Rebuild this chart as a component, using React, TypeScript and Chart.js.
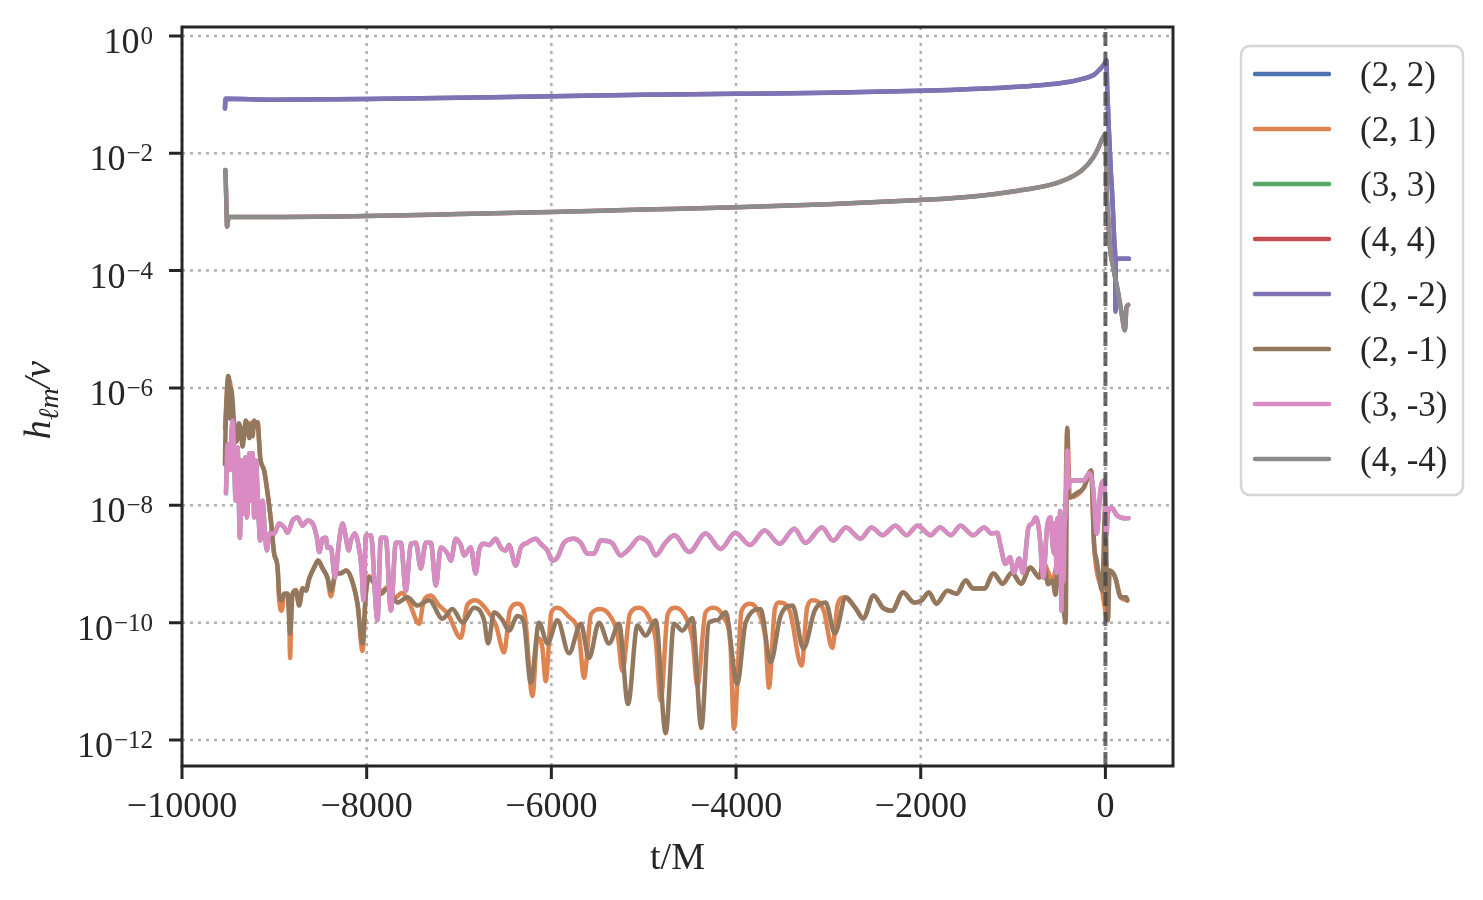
import { useEffect, useRef } from "react"
import { Chart, registerables, type Plugin } from "chart.js"

Chart.register(...registerables)

// mode labels and seaborn "deep" colours, in matplotlib plotting order
const modeLabels = ["(2, 2)", "(2, 1)", "(3, 3)", "(4, 4)", "(2, -2)", "(2, -1)", "(3, -3)", "(4, -4)"]
const modeColors = ["#4C72B0", "#DD8452", "#55A868", "#C44E52", "#8172B3", "#937860", "#DA8BC3", "#8C8C8C"]

const xTicks = [-10000, -8000, -6000, -4000, -2000, 0]
const yTicks = [1, 1e-2, 1e-4, 1e-6, 1e-8, 1e-10, 1e-12]
const xMin = -10000
const xMax = 732
const yMin = 3.6e-13
const yMax = 1.42
const mergerTime = 0

// |h_22| / nu  (same for (2, -2))
const amp22: [number, number][] = [
  [-9535, 0.058], [-9528, 0.085], [-9000, 0.082], [-8000, 0.084], [-7000, 0.088], [-6000, 0.094],
  [-5000, 0.099], [-4000, 0.103], [-3000, 0.108], [-2000, 0.116], [-1683, 0.12], [-938, 0.136],
  [-600, 0.15], [-384, 0.166], [-250, 0.185], [-127, 0.216], [-70, 0.26], [-34, 0.3], [0, 0.36],
  [10, 0.39], [20, 0.12], [35, 0.03], [58, 5e-3], [70, 2.5e-3], [85, 8e-4], [100, 2.5e-4],
  [106, 1.7e-4], [109, 2e-5], [113, 1.6e-4], [255, 1.6e-4],
]

// |h_44| / nu  (same for (4, -4))
const amp44: [number, number][] = [
  [-9530, 5.2e-3], [-9522, 2e-3], [-9512, 5.6e-4], [-9495, 8.2e-4], [-9000, 8.2e-4], [-8000, 8.5e-4],
  [-7000, 9.2e-4], [-6000, 1.0e-3], [-5000, 1.1e-3], [-4000, 1.2e-3], [-3000, 1.35e-3], [-2000, 1.6e-3],
  [-1500, 1.8e-3], [-944, 2.3e-3], [-600, 2.9e-3], [-390, 3.8e-3], [-250, 5.2e-3], [-132, 8.5e-3],
  [-80, 1.2e-2], [-39, 1.7e-2], [9, 2.2e-2], [13, 3.5e-3], [30, 8e-4], [49, 2.5e-4], [84, 1.15e-4],
  [139, 4.1e-5], [175, 1.9e-5], [211, 9.6e-6], [229, 2.4e-5], [247, 2.6e-5],
]

// |h_2-1| / nu
const amp2m1: [number, number][] = [
  [-9535, 5e-8], [-9528, 2.1e-7], [-9513, 8e-7], [-9500, 1.6e-6], [-9490, 1.4e-6], [-9480, 3e-7],
  [-9470, 1e-6], [-9452, 6e-7], [-9434, 2.1e-7], [-9420, 1.2e-7], [-9398, 1.4e-7], [-9385, 2.5e-7],
  [-9362, 1.8e-7], [-9345, 1e-7], [-9326, 1.6e-7], [-9310, 2.8e-7], [-9289, 2.2e-7], [-9270, 1.4e-7],
  [-9253, 2.4e-7], [-9235, 1.5e-7], [-9218, 2.8e-7], [-9200, 2.2e-7], [-9181, 2.6e-7], [-9165, 1.2e-7],
  [-9153, 6.5e-8], [-9110, 3.9e-8], [-9073, 1.6e-8], [-9037, 5.5e-9], [-9002, 1.5e-9], [-8965, 8.7e-10],
  [-8948, 3.1e-10], [-8921, 2.4e-10], [-8893, 3.1e-10], [-8857, 3.1e-10], [-8829, 6.5e-11], [-8802, 3.1e-10],
  [-8767, 3.5e-10], [-8731, 1.95e-10], [-8694, 3.8e-10], [-8658, 3.5e-10], [-8623, 5.6e-10], [-8569, 8.7e-10],
  [-8525, 1.14e-9], [-8478, 8.4e-10], [-8424, 5.9e-10], [-8388, 3.5e-10], [-8334, 6.9e-10], [-8280, 6.9e-10],
  [-8225, 7.7e-10], [-8171, 5.9e-10], [-8099, 2.1e-10], [-8045, 4.4e-11], [-8009, 3.1e-10], [-7973, 5.9e-10],
  [-7919, 4.6e-10], [-7847, 3.1e-10], [-7774, 3.8e-10], [-7666, 2.2e-10], [-7558, 2.7e-10], [-7450, 1.95e-10],
  [-7324, 2.4e-10], [-7179, 1.17e-10], [-7071, 1.7e-10], [-6962, 1.0e-10], [-6837, 1.8e-10], [-6729, 1.1e-10],
  [-6685, 4.4e-11], [-6620, 1.5e-10], [-6529, 1.1e-10], [-6458, 7.3e-11], [-6367, 1.3e-10], [-6296, 9.6e-11],
  [-6223, 9.5e-12], [-6133, 1.0e-10], [-6042, 4.4e-11], [-5934, 1.1e-10], [-5809, 3.0e-11], [-5682, 9.6e-11],
  [-5592, 2.5e-11], [-5484, 1.0e-10], [-5376, 4.4e-11], [-5267, 9.6e-11], [-5170, 4.1e-12], [-5068, 8.9e-11],
  [-4979, 6.0e-11], [-4870, 1.1e-10], [-4762, 1.3e-12], [-4672, 9.6e-11], [-4581, 7.3e-11], [-4473, 1.2e-10],
  [-4376, 1.6e-12], [-4294, 1.0e-10], [-4203, 1.1e-10], [-4113, 1.5e-10], [-3987, 9.1e-12], [-3896, 1.0e-10],
  [-3734, 1.7e-10], [-3626, 2.1e-11], [-3518, 1.3e-10], [-3389, 1.95e-10], [-3269, 3.6e-11], [-3149, 1.6e-10],
  [-3030, 2.2e-10], [-2930, 6.5e-11], [-2810, 2.7e-10], [-2710, 1.8e-10], [-2622, 1.17e-10], [-2511, 2.9e-10],
  [-2410, 1.8e-10], [-2311, 1.6e-10], [-2191, 3.25e-10], [-2071, 2.2e-10], [-1991, 2.4e-10], [-1911, 3.25e-10],
  [-1831, 2.1e-10], [-1711, 3.5e-10], [-1613, 3.1e-10], [-1512, 5.2e-10], [-1432, 3.8e-10], [-1312, 3.8e-10],
  [-1212, 6.9e-10], [-1113, 4.6e-10], [-1013, 7.1e-10], [-913, 4.6e-10], [-814, 8.7e-10], [-714, 5.9e-10],
  [-673, 1.06e-9], [-620, 4.5e-10], [-574, 5.2e-10], [-540, 3e-10], [-513, 1.14e-9], [-480, 4e-10],
  [-455, 1.8e-10], [-430, 1e-10], [-413, 2.1e-7], [-400, 1.5e-8], [-385, 1.36e-8], [-314, 1.6e-8],
  [-234, 2.0e-8], [-154, 3.9e-8], [-123, 2.2e-9], [-94, 1.14e-9], [-35, 3.5e-10], [-2, 1e-8],
  [26, 1.1e-10], [45, 7.7e-10], [106, 5.9e-10], [166, 2.7e-10], [225, 2.7e-10], [238, 2.4e-10],
]

// |h_21| / nu
const amp21: [number, number][] = [
  [-9535, 2e-7], [-9500, 1.5e-6], [-9470, 1e-6], [-9434, 2e-7], [-9362, 2e-7], [-9289, 2.4e-7],
  [-9218, 2.6e-7], [-9181, 2.6e-7], [-9153, 6.5e-8], [-9110, 3.9e-8], [-9073, 1.6e-8], [-9037, 5.5e-9],
  [-9002, 1.5e-9], [-8965, 8.7e-10], [-8948, 2.5e-10], [-8921, 1.6e-10], [-8893, 3.1e-10], [-8857, 3.1e-10],
  [-8840, 1.5e-10], [-8829, 2.5e-11], [-8815, 2e-10], [-8802, 3.1e-10], [-8767, 3.6e-10], [-8731, 2.0e-10],
  [-8694, 3.9e-10], [-8658, 3.6e-10], [-8623, 5.6e-10], [-8569, 8.7e-10], [-8525, 1.14e-9], [-8478, 8.4e-10],
  [-8424, 5.6e-10], [-8388, 2.8e-10], [-8334, 6.9e-10], [-8280, 7.0e-10], [-8225, 7.7e-10], [-8171, 5.9e-10],
  [-8099, 2.0e-10], [-8045, 3.3e-11], [-8009, 3.1e-10], [-7973, 6.2e-10], [-7919, 4.8e-10], [-7847, 3.4e-10],
  [-7774, 4.0e-10], [-7700, 2.6e-10], [-7620, 3.2e-10], [-7540, 2.2e-10], [-7432, 9.6e-11], [-7380, 2.4e-10],
  [-7305, 2.9e-10], [-7220, 2.0e-10], [-7120, 1.4e-10], [-6981, 5.5e-11], [-6910, 2.0e-10], [-6819, 2.4e-10],
  [-6720, 1.8e-10], [-6600, 9e-11], [-6512, 3.1e-11], [-6450, 1.6e-10], [-6367, 2.1e-10], [-6290, 1.4e-10],
  [-6205, 5.6e-12], [-6151, 5.5e-11], [-6100, 4e-11], [-6061, 1.0e-11], [-6000, 1.5e-10], [-5934, 1.8e-10],
  [-5820, 1.3e-10], [-5700, 6e-11], [-5646, 1.15e-11], [-5570, 1.4e-10], [-5466, 1.7e-10], [-5350, 1.2e-10],
  [-5280, 6e-11], [-5231, 1.5e-11], [-5150, 1.4e-10], [-5051, 1.8e-10], [-4940, 1.2e-10], [-4870, 5e-11],
  [-4816, 4.7e-12], [-4740, 1.4e-10], [-4654, 1.8e-10], [-4540, 1.2e-10], [-4470, 5e-11], [-4419, 8.4e-12],
  [-4330, 1.5e-10], [-4239, 1.8e-10], [-4130, 1.2e-10], [-4060, 4e-11], [-4023, 1.55e-12], [-3940, 1.6e-10],
  [-3842, 2.1e-10], [-3740, 1.3e-10], [-3680, 5e-11], [-3644, 7.8e-12], [-3580, 1.7e-10], [-3536, 2.2e-10],
  [-3420, 1.6e-10], [-3290, 1.85e-11], [-3230, 1.8e-10], [-3169, 2.4e-10], [-3050, 1.6e-10], [-2958, 3.7e-11],
  [-2900, 2.0e-10], [-2830, 2.7e-10], [-2710, 1.8e-10], [-2622, 1.2e-10], [-2511, 2.9e-10], [-2410, 1.8e-10],
  [-2311, 1.6e-10], [-2191, 3.25e-10], [-2071, 2.2e-10], [-1991, 2.4e-10], [-1911, 3.25e-10], [-1831, 2.1e-10],
  [-1711, 3.5e-10], [-1613, 3.1e-10], [-1512, 5.2e-10], [-1432, 3.8e-10], [-1312, 3.8e-10], [-1212, 6.9e-10],
  [-1113, 4.6e-10], [-1013, 7.1e-10], [-913, 4.6e-10], [-814, 8.7e-10], [-714, 5.9e-10], [-673, 1.06e-9],
  [-574, 5.2e-10], [-513, 1.1e-9], [-455, 1.8e-10], [-413, 2e-7], [-385, 1.36e-8], [-234, 2.0e-8],
  [-154, 3.9e-8], [-123, 2.2e-9], [-35, 3.5e-10], [26, 1.1e-10], [45, 7.7e-10], [106, 5.9e-10],
  [166, 2.7e-10], [238, 2.4e-10],
]

// |h_33| / nu  (same for (3, -3))
const amp33: [number, number][] = [
  [-9524, 1.6e-8], [-9506, 1.1e-7], [-9480, 4e-8], [-9465, 1.5e-7], [-9452, 2.8e-7], [-9434, 5.8e-8],
  [-9420, 1.2e-8], [-9398, 9.7e-8], [-9373, 2.8e-9], [-9354, 5.8e-8], [-9333, 7.2e-9], [-9315, 6.5e-8],
  [-9297, 6.2e-9], [-9272, 7.7e-8], [-9254, 1.2e-8], [-9235, 7.7e-8], [-9218, 6.2e-9], [-9200, 5.8e-8],
  [-9181, 1.6e-8], [-9153, 2.5e-9], [-9127, 1.2e-8], [-9102, 3.3e-9], [-9080, 1.7e-9], [-9056, 3.3e-9],
  [-9002, 3.3e-9], [-8948, 4.9e-9], [-8893, 4.2e-9], [-8857, 3.4e-9], [-8802, 5.5e-9], [-8748, 6.2e-9],
  [-8694, 4.5e-9], [-8640, 5.5e-9], [-8586, 4.9e-9], [-8539, 2.8e-9], [-8514, 1.6e-9], [-8478, 2.7e-9],
  [-8442, 2.8e-9], [-8423, 1.9e-9], [-8388, 1.9e-9], [-8344, 5.9e-10], [-8298, 2.5e-9], [-8261, 4.9e-9],
  [-8225, 2.8e-9], [-8196, 1.7e-9], [-8171, 2.5e-9], [-8128, 3.3e-9], [-8099, 2.5e-9], [-8056, 8.7e-10],
  [-8034, 2.4e-10], [-8009, 3.1e-9], [-7955, 3.1e-9], [-7883, 1.1e-10], [-7847, 2.8e-9], [-7793, 2.8e-9],
  [-7738, 1.6e-10], [-7684, 2.3e-9], [-7630, 2.3e-9], [-7576, 3.5e-10], [-7522, 2.2e-9], [-7468, 2.3e-9],
  [-7414, 8.4e-10], [-7360, 2.3e-9], [-7305, 2.3e-9], [-7251, 4.3e-10], [-7197, 1.9e-9], [-7125, 1.5e-9],
  [-7089, 1.14e-9], [-7035, 2.7e-9], [-6981, 2.1e-9], [-6945, 1.4e-9], [-6873, 1.9e-9], [-6819, 6.9e-10],
  [-6783, 1.7e-9], [-6729, 2.2e-9], [-6675, 2.1e-9], [-6602, 2.7e-9], [-6548, 1.9e-9], [-6494, 1.7e-9],
  [-6458, 2.1e-9], [-6386, 9.4e-10], [-6331, 1.9e-9], [-6259, 2.3e-9], [-6169, 2.7e-9], [-6115, 2.2e-9],
  [-6043, 1.7e-9], [-5989, 1.14e-9], [-5934, 1.3e-9], [-5863, 2.3e-9], [-5755, 2.7e-9], [-5682, 2.3e-9],
  [-5610, 1.5e-9], [-5538, 1.5e-9], [-5466, 2.5e-9], [-5347, 2.3e-9], [-5249, 1.4e-9], [-5146, 1.9e-9],
  [-5047, 2.8e-9], [-4946, 2.3e-9], [-4870, 1.4e-9], [-4766, 2.3e-9], [-4667, 3.1e-9], [-4507, 1.6e-9],
  [-4329, 3.3e-9], [-4167, 1.8e-9], [-4008, 3.4e-9], [-3849, 2.1e-9], [-3691, 3.7e-9], [-3528, 2.2e-9],
  [-3369, 4.0e-9], [-3249, 2.3e-9], [-3069, 4.2e-9], [-2949, 2.5e-9], [-2810, 4.2e-9], [-2652, 2.7e-9],
  [-2533, 4.2e-9], [-2414, 3.1e-9], [-2273, 4.5e-9], [-2154, 3.1e-9], [-2035, 4.5e-9], [-1894, 3.1e-9],
  [-1791, 4.2e-9], [-1672, 3.1e-9], [-1571, 4.5e-9], [-1432, 3.1e-9], [-1312, 4.2e-9], [-1234, 3.3e-9],
  [-1172, 3.4e-9], [-1132, 1.9e-9], [-1082, 1.0e-9], [-1033, 1.3e-9], [-992, 7.1e-10], [-933, 1.24e-9],
  [-893, 7.1e-10], [-833, 4.2e-9], [-793, 4.9e-9], [-753, 6.2e-9], [-714, 3.3e-9], [-673, 5.9e-10],
  [-633, 4.0e-9], [-595, 6.2e-9], [-570, 2.0e-9], [-553, 1.5e-9], [-540, 5e-9], [-530, 7e-10],
  [-520, 6e-9], [-513, 3.7e-9], [-500, 1.5e-9], [-490, 8e-9], [-476, 1.6e-10], [-465, 6e-9],
  [-455, 5e-10], [-444, 3.7e-9], [-430, 8e-9], [-413, 8.6e-8], [-400, 2e-8], [-385, 2.65e-8],
  [-314, 2.65e-8], [-234, 2.65e-8], [-173, 3.5e-8], [-134, 2.0e-8], [-94, 3.3e-9], [-54, 1.8e-8],
  [-14, 2.65e-8], [10, 3e-9], [26, 7.2e-9], [65, 9.2e-9], [126, 6.7e-9], [225, 6.0e-9], [249, 6.0e-9],
]

const modeData = [amp22, amp21, amp33, amp44, amp22, amp2m1, amp33, amp44]

const serif = "'Liberation Serif', 'Times New Roman', serif"
const ink = "#262626"

const minusLabel = (v: number) => (v < 0 ? "\u2212" + Math.abs(v) : String(v))

// dotted grid, box frame, outward tick marks and 10^n labels
const axesPlugin: Plugin = {
  id: "axesFrame",
  beforeDatasetsDraw(chart) {
    const { ctx, chartArea: a, scales } = chart
    ctx.save()
    ctx.strokeStyle = "#b0b0b0"
    ctx.lineWidth = 2.5
    ctx.setLineDash([3, 5])
    ctx.beginPath()
    scales.x.ticks.forEach((t) => {
      const px = scales.x.getPixelForValue(t.value)
      ctx.moveTo(px, a.top)
      ctx.lineTo(px, a.bottom)
    })
    scales.y.ticks.forEach((t) => {
      const py = scales.y.getPixelForValue(t.value)
      ctx.moveTo(a.left, py)
      ctx.lineTo(a.right, py)
    })
    ctx.stroke()
    ctx.restore()
  },
  afterDatasetsDraw(chart) {
    const { ctx, chartArea: a, scales } = chart
    ctx.save()
    ctx.strokeStyle = ink
    ctx.lineWidth = 3
    ctx.strokeRect(a.left, a.top, a.right - a.left, a.bottom - a.top)
    ctx.beginPath()
    scales.x.ticks.forEach((t) => {
      const px = scales.x.getPixelForValue(t.value)
      ctx.moveTo(px, a.bottom)
      ctx.lineTo(px, a.bottom + 13)
    })
    scales.y.ticks.forEach((t) => {
      const py = scales.y.getPixelForValue(t.value)
      ctx.moveTo(a.left - 13, py)
      ctx.lineTo(a.left, py)
    })
    ctx.stroke()

    // y labels as 10 with a raised exponent
    const right = a.left - 29
    ctx.fillStyle = ink
    ctx.textAlign = "left"
    ctx.textBaseline = "alphabetic"
    scales.y.ticks.forEach((t) => {
      const py = scales.y.getPixelForValue(t.value)
      const e = Math.round(Math.log10(t.value))
      const expText = e < 0 ? "\u2212" + -e : String(e)
      ctx.font = `25px ${serif}`
      const we = ctx.measureText(expText).width
      ctx.fillText(expText, right - we, py + 8)
      ctx.font = `36px ${serif}`
      const wb = ctx.measureText("10").width
      ctx.fillText("10", right - we - wb - 1, py + 17)
    })
    ctx.restore()
  },
}

// y label  h_{lm}/nu  with a real subscript
const yTitlePlugin: Plugin = {
  id: "yTitle",
  afterDraw(chart) {
    const { ctx } = chart
    const main = `italic 38px ${serif}`
    const sub = `italic 28px ${serif}`
    ctx.save()
    ctx.translate(50, 400)
    ctx.rotate(-Math.PI / 2)
    ctx.fillStyle = ink
    ctx.textBaseline = "alphabetic"
    ctx.font = main
    const wh = ctx.measureText("h").width
    const wr = ctx.measureText("/\u03BD").width
    ctx.font = sub
    const ws = ctx.measureText("\u2113m").width
    let x = -(wh + ws + wr) / 2
    ctx.font = main
    ctx.fillText("h", x, 0)
    x += wh
    ctx.font = sub
    ctx.fillText("\u2113m", x, 8)
    x += ws
    ctx.font = main
    ctx.fillText("/\u03BD", x, 0)
    ctx.restore()
  },
}

// legend box outside the axes, upper right
const legendPlugin: Plugin = {
  id: "sideLegend",
  afterDraw(chart) {
    const { ctx, chartArea: a } = chart
    const left = a.right + 68
    const top = 46
    const w = 222
    const h = 449
    ctx.save()
    ctx.beginPath()
    ctx.roundRect(left, top, w, h, 9)
    ctx.fillStyle = "rgba(255,255,255,0.8)"
    ctx.fill()
    ctx.strokeStyle = "#d6d6d6"
    ctx.lineWidth = 2.5
    ctx.stroke()
    ctx.font = `35px ${serif}`
    ctx.textBaseline = "middle"
    ctx.lineCap = "round"
    chart.data.datasets.forEach((ds, i) => {
      if (!ds.label) return
      const y = top + 28 + i * 55
      ctx.strokeStyle = ds.borderColor as string
      ctx.lineWidth = 4.5
      ctx.beginPath()
      ctx.moveTo(left + 14, y)
      ctx.lineTo(left + 88, y)
      ctx.stroke()
      ctx.fillStyle = ink
      ctx.fillText(ds.label, left + 119, y + 3)
    })
    ctx.restore()
  },
}

export default function App() {
  const canvasRef = useRef<HTMLCanvasElement>(null)

  useEffect(() => {
    if (!canvasRef.current) return

    const modeSets = modeLabels.map((label, i) => ({
      label,
      data: modeData[i].map(([x, y]) => ({ x, y })),
      borderColor: modeColors[i],
      backgroundColor: modeColors[i],
      borderWidth: 4.5,
      pointRadius: 0,
      cubicInterpolationMode: "monotone" as const,
      borderJoinStyle: "round" as const,
      borderCapStyle: "round" as const,
      clip: 0,
      order: 10 - i,
    }))

    const chart = new Chart(canvasRef.current, {
      type: "line",
      data: {
        datasets: [
          ...modeSets,
          {
            label: "",
            data: [
              { x: mergerTime, y: yMin },
              { x: mergerTime, y: yMax },
            ],
            borderColor: "rgba(70,70,70,0.8)",
            borderWidth: 4,
            borderDash: [14, 6],
            pointRadius: 0,
            clip: 0,
            order: 0,
          },
        ],
      },
      options: {
        responsive: false,
        animation: false,
        devicePixelRatio: 1,
        events: [],
        layout: { padding: { left: 0, top: 27, right: 310, bottom: 0 } },
        plugins: {
          legend: { display: false },
          tooltip: { enabled: false },
        },
        scales: {
          x: {
            type: "linear",
            min: xMin,
            max: xMax,
            grid: { display: false, drawTicks: false },
            border: { display: false },
            afterBuildTicks: (s) => {
              s.ticks = xTicks.map((value) => ({ value }))
            },
            afterFit: (s) => {
              s.height = 134
            },
            ticks: {
              font: { family: serif, size: 36 },
              color: ink,
              padding: 20,
              maxRotation: 0,
              autoSkip: false,
              callback: (v) => minusLabel(Number(v)),
            },
            title: {
              display: true,
              text: "t/M",
              font: { family: serif, size: 38 },
              color: ink,
              padding: { top: 0, bottom: 18 },
            },
          },
          y: {
            type: "logarithmic",
            min: yMin,
            max: yMax,
            grid: { display: false, drawTicks: false },
            border: { display: false },
            afterBuildTicks: (s) => {
              s.ticks = yTicks.map((value) => ({ value }))
            },
            afterFit: (s) => {
              s.width = 182
            },
            ticks: { display: false },
          },
        },
      },
      plugins: [axesPlugin, yTitlePlugin, legendPlugin],
    })

    return () => chart.destroy()
  }, [])

  return (
    <div style={{ position: "fixed", left: 0, top: 0, width: 1483, height: 900, background: "#fff" }}>
      <canvas ref={canvasRef} width={1483} height={900} style={{ width: 1483, height: 900 }} />
    </div>
  )
}
